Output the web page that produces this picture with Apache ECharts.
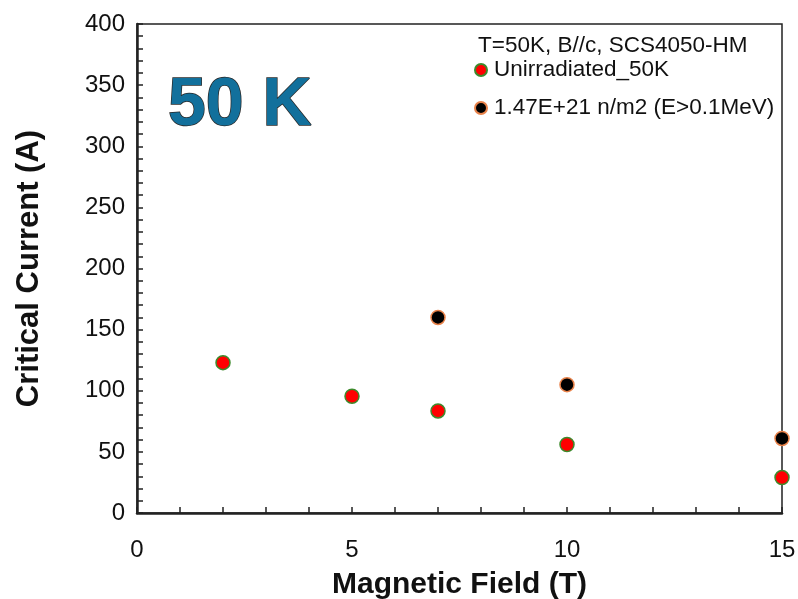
<!DOCTYPE html>
<html>
<head>
<meta charset="utf-8">
<script src="https://cdn.jsdelivr.net/npm/echarts@6/dist/echarts.min.js"></script>
<style>
  html, body { margin: 0; padding: 0; background: #fff; }
  #chart { width: 798px; height: 599px; }
</style>
</head>
<body>
<div id="chart"></div>
<script>
// Magnetic field (T) where Ic was measured
const fieldUnirr = [2, 5, 7, 10, 15];
const icUnirr = [123, 95.5, 83.5, 56, 29];
const fieldIrr = [7, 10, 15];
const icIrr = [160, 105, 61];

const seriesNames = ['Unirradiated_50K', '1.47E+21 n/m2 (E>0.1MeV)'];
const legendHeading = 'T=50K, B//c, SCS4050-HM';
const panelLabel = '50 K';

const pairs = (xs, ys) => xs.map((x, i) => [x, ys[i]]);

const font = '"Liberation Sans", Arial, sans-serif';
const chart = echarts.init(document.getElementById('chart'), null, { renderer: 'canvas' });

chart.setOption({
  backgroundColor: '#ffffff',
  animation: false,
  title: [
    {
      text: panelLabel,
      left: 168, top: 72, padding: 0,
      textStyle: {
        fontFamily: font, fontSize: 68, fontWeight: 'bold',
        color: '#12709c', textBorderColor: '#2a2a2a', textBorderWidth: 1.5
      }
    },
    {
      text: legendHeading,
      left: 478, top: 34, padding: 0,
      textStyle: { fontFamily: font, fontSize: 22.5, fontWeight: 'normal', color: '#111' }
    }
  ],
  legend: {
    orient: 'vertical',
    left: 474, top: 58,
    padding: 0,
    itemWidth: 12, itemHeight: 12,
    itemGap: 14,
    icon: 'circle',
    data: seriesNames,
    textStyle: { fontFamily: font, fontSize: 22.5, color: '#111', lineHeight: 24, padding: [0, 0, 0, 2] }
  },
  grid: {
    left: 137, right: 16, top: 24, bottom: 86,
    outerBoundsMode: 'none',
    show: true, borderColor: '#222', borderWidth: 1.5, backgroundColor: 'transparent'
  },
  xAxis: {
    type: 'value', min: 0, max: 15, interval: 5,
    name: 'Magnetic Field (T)', nameLocation: 'middle', nameGap: 57,
    nameTextStyle: { fontFamily: font, fontSize: 30, fontWeight: 'bold', color: '#111' },
    axisLine: { show: true, onZero: false, lineStyle: { color: '#222', width: 2.5 } },
    axisTick: { show: true, inside: true, length: 6, lineStyle: { color: '#222', width: 1.5 } },
    minorTick: { show: true, splitNumber: 5, length: 6, lineStyle: { color: '#222', width: 1.5 } },
    splitLine: { show: false },
    axisLabel: { fontFamily: font, fontSize: 24, color: '#111', margin: 25 }
  },
  yAxis: {
    type: 'value', min: 0, max: 400, interval: 50,
    name: 'Critical Current (A)', nameLocation: 'middle', nameGap: 92,
    nameTextStyle: { fontFamily: font, fontSize: 31, fontWeight: 'bold', color: '#111' },
    axisLine: { show: true, onZero: false, lineStyle: { color: '#222', width: 2.5 } },
    axisTick: { show: true, inside: true, length: 6, lineStyle: { color: '#222', width: 1.5 } },
    minorTick: { show: true, splitNumber: 5, length: 6, lineStyle: { color: '#222', width: 1.5 } },
    splitLine: { show: false },
    axisLabel: { fontFamily: font, fontSize: 24, color: '#111', margin: 12 }
  },
  series: [
    {
      name: seriesNames[0], type: 'scatter', symbol: 'circle', symbolSize: 14,
      itemStyle: { color: '#ff0000', borderColor: '#3d8a2c', borderWidth: 1.5, opacity: 1 },
      data: pairs(fieldUnirr, icUnirr), z: 3
    },
    {
      name: seriesNames[1], type: 'scatter', symbol: 'circle', symbolSize: 14,
      itemStyle: { color: '#000000', borderColor: '#e8824a', borderWidth: 1.5, opacity: 1 },
      data: pairs(fieldIrr, icIrr), z: 3
    }
  ]
});
</script>
</body>
</html>
